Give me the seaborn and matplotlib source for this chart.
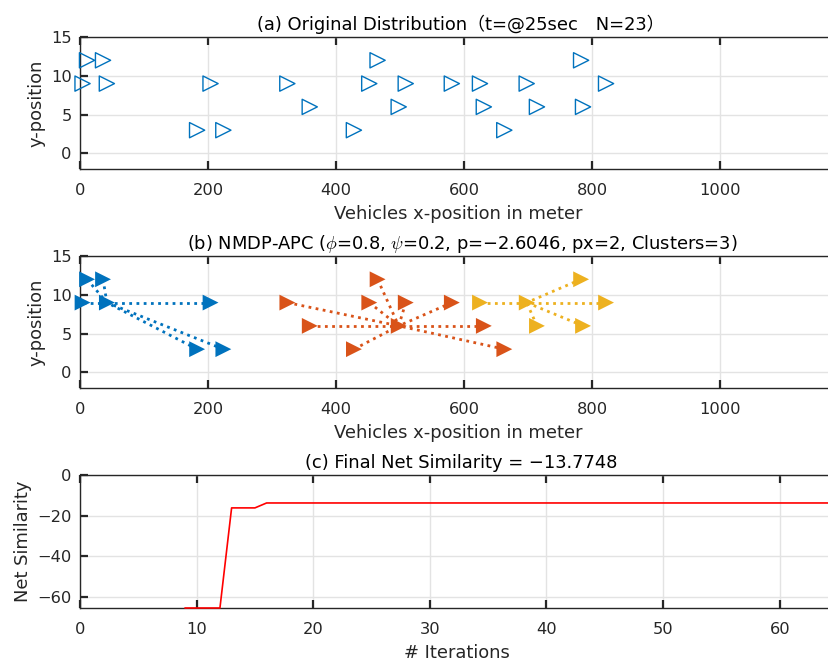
import numpy as np
import pandas as pd
import seaborn as sns
import matplotlib
matplotlib.use("Agg")
import matplotlib.pyplot as plt

# ---------------- data ----------------
veh_x = [11, 36, 4, 42, 204, 183, 224,
         324, 359, 428, 465, 452, 509, 581, 631, 663, 498,
         625, 698, 714, 783, 786, 822]
veh_y = [12, 12, 9, 9, 9, 3, 3,
         9, 6, 3, 12, 9, 9, 9, 6, 3, 6,
         9, 9, 6, 12, 6, 9]
cluster = [1, 1, 1, 1, 1, 1, 1,
           2, 2, 2, 2, 2, 2, 2, 2, 2, 2,
           3, 3, 3, 3, 3, 3]
exemplar_idx = {1: 3, 2: 16, 3: 18}   # index of exemplar vehicle per cluster

iters = [9, 10, 11, 12, 13, 14, 15, 16, 17, 20, 30, 40, 50, 60, 66]
net_sim = [-65.5, -65.5, -65.5, -65.5, -16.2, -16.2, -16.2, -13.7748, -13.7748,
           -13.7748, -13.7748, -13.7748, -13.7748, -13.7748, -13.7748]

title_a = "(a) Original Distribution（t=@25sec　N=23）"
title_b = r"(b) NMDP-APC ($\phi$=0.8, $\psi$=0.2, p=−2.6046, px=2, Clusters=3)"
title_c = "(c) Final Net Similarity = −13.7748"

colors = {1: "#0072BD", 2: "#D95319", 3: "#EDB120"}

# ---------------- style ----------------
sns.set_theme(style="white")
plt.rcParams["font.family"] = ["DejaVu Sans", "Noto Sans CJK JP"]
plt.rcParams["mathtext.fontset"] = "cm"
plt.rcParams["axes.unicode_minus"] = True

FS = 11.7
FT = 12.9
TXT = "#262626"

df = pd.DataFrame({"x": veh_x, "y": veh_y, "cluster": cluster})

fig = plt.figure(figsize=(8.29, 6.66), dpi=100)
W, H = 829, 666


def make_ax(left_px, top_px, bottom_px, right_px):
    return fig.add_axes([left_px / W, 1 - bottom_px / H,
                         (right_px - left_px) / W, (bottom_px - top_px) / H])


def style_ax(ax, xt, yt):
    ax.set_xticks(xt)
    ax.set_yticks(yt)
    ax.grid(True, color="#e3e3e3", lw=1.0)
    ax.set_axisbelow(True)
    for s in ["left", "bottom", "top"]:
        ax.spines[s].set_visible(True)
        ax.spines[s].set_color(TXT)
        ax.spines[s].set_linewidth(1.0)
    ax.spines["right"].set_visible(False)
    ax.tick_params(axis="both", which="major", direction="in", length=6, width=1.6,
                   color=TXT, labelcolor=TXT, labelsize=FS, top=True, bottom=True,
                   left=True, right=False)
    ax.tick_params(axis="x", pad=10)
    ax.tick_params(axis="y", pad=6)


# ---- (a) ----
ax1 = make_ax(80, 37, 169, 848)
sns.scatterplot(data=df, x="x", y="y", marker=">", s=120, facecolor="none",
                edgecolor="#0072BD", linewidth=1.0, ax=ax1, zorder=3, clip_on=False)
ax1.set_xlim(0, 1200)
ax1.set_ylim(-2, 15)
style_ax(ax1, [0, 200, 400, 600, 800, 1000], [0, 5, 10, 15])
ax1.set_title(title_a, fontsize=FT, color="black", pad=5, x=0.496)
ax1.set_xlabel("Vehicles x-position in meter", fontsize=FT, color=TXT, labelpad=5, x=0.493)
ax1.set_ylabel("y-position", fontsize=FT, color=TXT, labelpad=4)

# ---- (b) ----
ax2 = make_ax(80, 256, 388, 848)
for c in sorted(set(cluster)):
    sub = df[df["cluster"] == c]
    ex = exemplar_idx[c]
    for i in sub.index:
        if i == ex:
            continue
        ax2.plot([veh_x[i], veh_x[ex]], [veh_y[i], veh_y[ex]], color=colors[c],
                 lw=2.0, linestyle=(0, (1, 1.6)), zorder=2)
sns.scatterplot(data=df, x="x", y="y", hue="cluster", palette=colors, marker=">",
                s=130, linewidth=0, ax=ax2, zorder=3, legend=False, clip_on=False)
ax2.set_xlim(0, 1200)
ax2.set_ylim(-2, 15)
style_ax(ax2, [0, 200, 400, 600, 800, 1000], [0, 5, 10, 15])
ax2.set_title(title_b, fontsize=FT, color="black", pad=5, x=0.498)
ax2.set_xlabel("Vehicles x-position in meter", fontsize=FT, color=TXT, labelpad=5, x=0.493)
ax2.set_ylabel("y-position", fontsize=FT, color=TXT, labelpad=4)

# ---- (c) ----
ax3 = make_ax(80, 475, 608, 838)
sns.lineplot(x=iters, y=net_sim, color="red", lw=1.2, ax=ax3, zorder=3, clip_on=False)
ax3.set_xlim(0, 65)
ax3.set_ylim(-65.5, 0)
style_ax(ax3, [0, 10, 20, 30, 40, 50, 60], [-60, -40, -20, 0])
ax3.set_title(title_c, fontsize=FT, color="black", pad=5, x=0.503)
ax3.set_xlabel("# Iterations", fontsize=FT, color=TXT, labelpad=5, x=0.497)
ax3.set_ylabel("Net Similarity", fontsize=FT, color=TXT, labelpad=4)

fig.savefig("out.png", dpi=100)
